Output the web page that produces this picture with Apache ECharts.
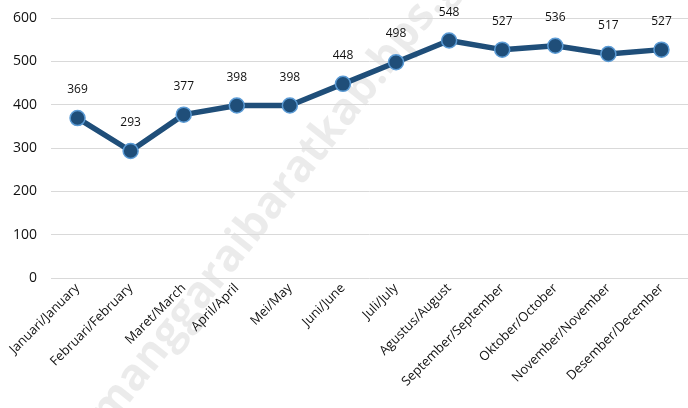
<!DOCTYPE html>
<html>
<head>
<meta charset="utf-8">
<script src="https://cdn.jsdelivr.net/npm/echarts@6/dist/echarts.min.js"></script>
<style>
  html, body { margin: 0; padding: 0; background: #fff; }
  #chart { width: 688px; height: 408px; }
</style>
</head>
<body>
<div id="chart"></div>
<script>
const months = [
  "Januari/January", "Februari/February", "Maret/March", "April/April",
  "Mei/May", "Juni/June", "Juli/July", "Agustus/August",
  "September/September", "Oktober/October", "November/November", "Desember/December"
];
const values = [369, 293, 377, 398, 398, 448, 498, 548, 527, 536, 517, 527];
const yTicks = [0, 100, 200, 300, 400, 500, 600];

const chart = echarts.init(document.getElementById("chart"));
const option = {
  animation: false,
  grid: { left: 51, right: -8, top: 18, bottom: 130 },
  graphic: [
    {
      type: "text",
      z: -1,
      x: 300,
      y: 168,
      rotation: 0.9,
      style: {
        text: "manggaraibaratkab.bps.go.id",
        font: "bold 44px 'Open Sans', sans-serif",
        fill: "rgba(0,0,0,0.08)",
        align: "center",
        verticalAlign: "middle"
      }
    }
  ],
  xAxis: {
    type: "category",
    data: months,
    boundaryGap: true,
    axisLine: { show: false },
    axisTick: { show: false },
    axisLabel: {
      interval: 0,
      rotate: 45,
      margin: 8,
      fontSize: 13,
      fontFamily: "Open Sans",
      color: "#111"
    }
  },
  yAxis: {
    type: "value",
    min: yTicks[0],
    max: yTicks[yTicks.length - 1],
    interval: 100,
    axisLine: { show: false },
    axisTick: { show: false },
    axisLabel: { fontSize: 14, fontFamily: "Open Sans", color: "#111", margin: 14 },
    splitLine: { lineStyle: { color: "#d9d9d9", width: 1 } }
  },
  series: [
    {
      type: "line",
      data: values,
      symbol: "circle",
      symbolSize: 15,
      lineStyle: { color: "#1F4E79", width: 5.5 },
      itemStyle: { color: "#1F4E79", borderColor: "#5B9BD5", borderWidth: 1.5 },
      label: {
        show: true,
        position: "top",
        distance: 14,
        fontSize: 12,
        fontFamily: "Open Sans",
        color: "#111"
      }
    }
  ]
};
chart.setOption(option);
</script>
</body>
</html>
